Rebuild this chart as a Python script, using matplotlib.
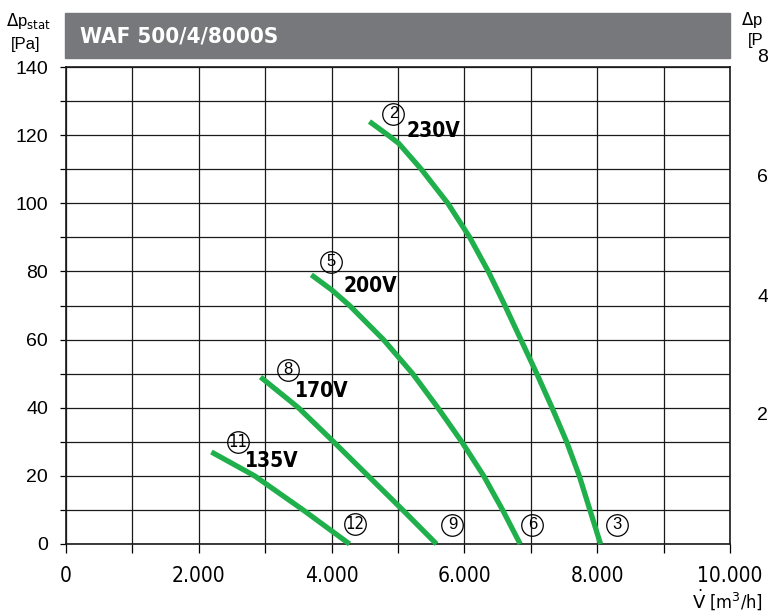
import matplotlib.pyplot as plt
from matplotlib import font_manager as fm
from matplotlib.patches import Rectangle

plt.rcParams["mathtext.fontset"] = "dejavusans"

# airflow [m3/h] and static pressure [Pa]
v_230 = [4570, 4850, 5010, 5350, 5750, 6080, 6360, 6610, 6850, 7090, 7320, 7540, 7730, 7890, 8050]
p_230 = [124, 120, 117.6, 110, 100, 90, 80, 70, 60, 50, 40, 30, 20, 10, 0]

v_200 = [3695, 4000, 4270, 4780, 5220, 5600, 5960, 6290, 6575, 6840]
p_200 = [79, 74.6, 70, 60, 50, 40, 30, 20, 10, 0]

v_170 = [2930, 3500, 4030, 4550, 5070, 5580]
p_170 = [49, 40, 30, 20, 10, 0]

v_135 = [2190, 2840, 3570, 4270]
p_135 = [27, 20, 10, 0]

curves = [(v_230, p_230), (v_200, p_200), (v_170, p_170), (v_135, p_135)]

volt_labels = ["230V", "200V", "170V", "135V"]
volt_pos = [(5540, 121.3), (4580, 75.8), (3850, 44.9), (3100, 24.3)]

circle_labels = ["2", "5", "8", "11", "12", "9", "6", "3"]
circle_pos = [(4930, 126.3), (3985, 82.8), (3338, 51.1), (2590, 30.0),
              (4346, 5.9), (5820, 5.6), (7023, 5.6), (8301, 5.6)]

x_ticks = [0, 2000, 4000, 6000, 8000, 10000]
x_ticklabels = ["0", "2.000", "4.000", "6.000", "8.000", "10.000"]
y_ticks = [0, 20, 40, 60, 80, 100, 120, 140]

green = "#1fb04c"
grey = "#77787b"
sans = ["Liberation Sans", "DejaVu Sans"]


def font_file(keys):
    for k in keys:
        for f in fm.fontManager.ttflist:
            if k in f.fname:
                return fm.FontProperties(fname=f.fname)
    return None


nb = font_file(["LiberationSansNarrow-Bold.", "DejaVuSansCondensed-Bold.", "RobotoCondensed-Bold"])
nr = font_file(["LiberationSansNarrow-Regular.", "DejaVuSansCondensed.", "RobotoCondensed-Regular"])
if nb is None:
    nb = fm.FontProperties(family=sans, weight="bold")
if nr is None:
    nr = fm.FontProperties(family=sans)


def fp(base, size):
    p = base.copy()
    p.set_size(size)
    return p


fig = plt.figure(figsize=(7.68, 6.14), dpi=100)
ax = fig.add_axes([66 / 768, 1 - 544 / 614, 664 / 768, 477 / 614])

ax.set_xlim(0, 10000)
ax.set_ylim(0, 140)
ax.set_xticks(x_ticks)
ax.set_xticklabels(x_ticklabels, fontproperties=fp(nr, 15))
ax.set_xticks(range(0, 10001, 1000), minor=True)
ax.set_yticks(y_ticks)
ax.set_yticklabels([str(t) for t in y_ticks], family=sans, fontsize=14)
ax.set_yticks(range(0, 141, 10), minor=True)

ax.grid(True, which="both", color="#1a1a1a", linewidth=0.9)
ax.tick_params(axis="x", which="both", length=6.5, width=0.9, pad=9, direction="out")
ax.tick_params(axis="y", which="both", length=4, width=0.9, pad=9, direction="out")
for s in ax.spines.values():
    s.set_linewidth(1.2)
    s.set_color("#1a1a1a")

for v, p in curves:
    ax.plot(v, p, color=green, linewidth=3.8, solid_capstyle="butt",
            solid_joinstyle="round", zorder=3, clip_on=False)

for lab, (x, y) in zip(volt_labels, volt_pos):
    ax.text(x, y, lab, fontproperties=fp(nb, 15), ha="center", va="center", zorder=4)

for lab, (x, y) in zip(circle_labels, circle_pos):
    ax.plot(x, y, marker="o", markersize=15.5, mfc="none", mec="black", mew=0.9,
            zorder=4, clip_on=False)
    if len(lab) > 1:
        ax.text(x, y, lab, fontproperties=fp(nr, 12), ha="center", va="center", zorder=5)
    else:
        ax.text(x, y, lab, family=sans, fontsize=12, ha="center", va="center", zorder=5)

# header bar
fig.patches.append(Rectangle((65 / 768, 1 - 58 / 614), 665 / 768, 45 / 614,
                             transform=fig.transFigure, color=grey, zorder=0))
fig.text(80 / 768, 1 - 36 / 614, "WAF 500/4/8000S", fontproperties=fp(nb, 16),
         color="white", ha="left", va="center")

# axis captions
fig.text(28 / 768, 1 - 21 / 614, r"$\Delta$p$_{\mathrm{stat}}$", family=sans, fontsize=12,
         ha="center", va="center")
fig.text(26 / 768, 1 - 45 / 614, "[Pa]", family=sans, fontsize=12, ha="center", va="center")
fig.text(763 / 768, 1 - 600 / 614, r"$\dot{\mathrm{V}}$ [m$^3$/h]", fontproperties=fp(nr, 13),
         ha="right", va="center")

# neighbouring chart, only its visible edge
fig.text(741 / 768, 1 - 20 / 614, r"$\Delta$p", family=sans, fontsize=12,
         ha="left", va="center")
fig.text(748 / 768, 1 - 41 / 614, "[P", family=sans, fontsize=12, ha="left", va="center")
for lab, yy in zip(["8", "6", "4", "2"], [57, 177, 297, 416]):
    fig.text(757 / 768, 1 - yy / 614, lab, family=sans, fontsize=14, ha="left", va="center")

fig.savefig("out.png", dpi=100)
